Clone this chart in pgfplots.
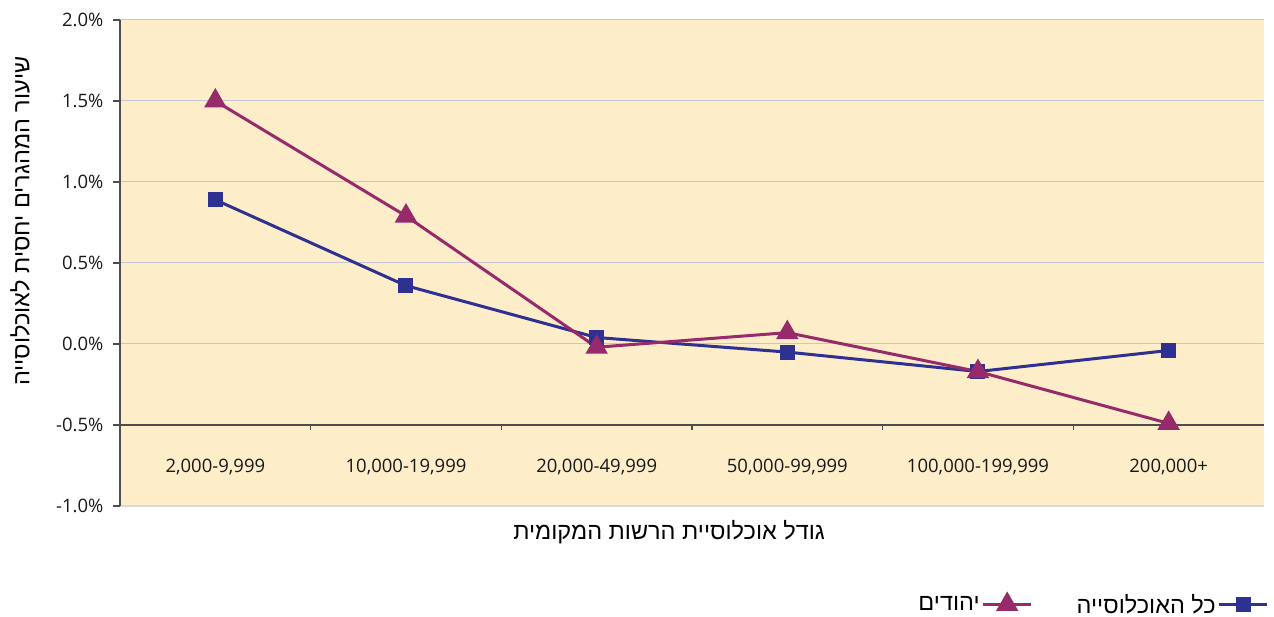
\documentclass[border=0pt]{standalone}
\usepackage{fontspec}
\setmainfont{Open Sans}
\newfontfamily\hebfont[Script=Hebrew]{Liberation Sans}
\usepackage{pgfplots}
\usepackage{pgfplotstable}
\pgfplotsset{compat=1.18}
\TeXXeTstate=1

\definecolor{allpop}{HTML}{2E3192}
\definecolor{jews}{HTML}{962A6A}
\definecolor{bgc}{HTML}{FDEDC9}
\definecolor{gridc}{HTML}{C3C6D4}
\definecolor{axisc}{HTML}{4D4D4D}

% migration rate relative to population (%), by size of local authority
\pgfplotstableread{
x all jews
0 0.89 1.50
1 0.36 0.79
2 0.04 -0.02
3 -0.05 0.07
4 -0.17 -0.17
5 -0.04 -0.49
}\rates

\begin{document}
\begin{tikzpicture}
\path[use as bounding box] (0,0) rectangle (1274pt,617pt);
\begin{axis}[
    at={(120pt,111pt)}, anchor=south west,
    scale only axis,
    width=1144pt, height=486pt,
    xmin=-0.5, xmax=5.5,
    ymin=-1, ymax=2,
    axis background/.style={fill=bgc},
    axis x line*=bottom, axis y line*=left,
    x axis line style={-, draw=gray!30, line width=2pt},
    y axis line style={-, draw=axisc, line width=1.5pt},
    xtick={0,...,5},
    xticklabels={{2,000-9,999}, {10,000-19,999}, {20,000-49,999}, {50,000-99,999}, {100,000-199,999}, {200,000+}},
    xtick style={draw=none},
    xticklabel style={anchor=center, yshift=46pt},
    ytick={-1,-0.5,...,2},
    yticklabel={\pgfmathprintnumber[fixed,fixed zerofill,precision=1]{\tick}\%},
    yticklabel style={xshift=-6pt},
    /pgf/number format/assume math mode=true,
    ytick style={draw=axisc, line width=1.2pt},
    tick align=outside, major tick length=7pt,
    ymajorgrids, grid style={draw=gridc, line width=1pt},
    tick label style={font=\fontsize{18.5}{21}\selectfont, text=black!90},
    xlabel={\hebfont\beginR גודל אוכלוסיית הרשות המקומית\endR},
    ylabel={\hebfont\beginR שיעור המהגרים יחסית לאוכלוסייה\endR},
    label style={font=\fontsize{23.5}{26}\selectfont},
    xlabel style={at={(axis description cs:0.48,-0.0535)}, anchor=center},
    ylabel style={at={(axis description cs:-0.0874,0.586)}, anchor=center},
    legend columns=2,
    legend plot pos=right,
    reverse legend,
    legend style={at={(rel axis cs:1,0)}, anchor=north east, xshift=8pt, yshift=-84pt,
        draw=none, fill=none, font=\hebfont\fontsize{23.5}{26}\selectfont,
        /tikz/column 2/.style={column sep=42pt}},
    legend image code/.code={\draw[mark repeat=2,mark phase=2,#1] plot coordinates {(0pt,0pt) (24pt,0pt) (48pt,0pt)};},
]
\draw[axisc, line width=1.5pt] (axis cs:-0.5,-0.5) -- (axis cs:5.5,-0.5);
\pgfplotsinvokeforeach{0.5,1.5,2.5,3.5,4.5}{
  \draw[axisc, line width=1.2pt] (axis cs:#1,-0.5) -- ([yshift=-5pt]axis cs:#1,-0.5);
}
\addplot[allpop, line width=3pt, mark=square*, mark size=6pt, mark options={solid}]
  table[x=x, y=all] {\rates};
\addlegendentry{\beginR כל האוכלוסייה\endR}
\addplot[jews, line width=3pt, mark=triangle*, mark size=10pt, mark options={solid}]
  table[x=x, y=jews] {\rates};
\addlegendentry{\beginR יהודים\endR}
\end{axis}
\end{tikzpicture}
\end{document}
